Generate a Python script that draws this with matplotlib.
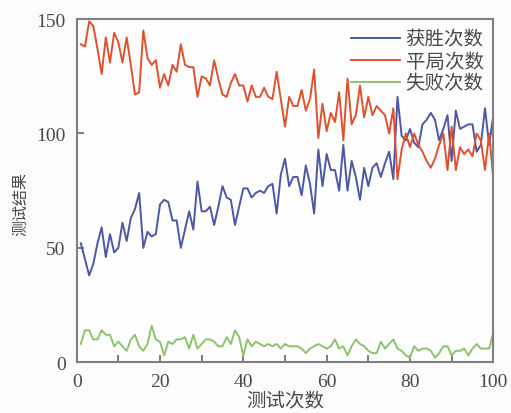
import matplotlib
matplotlib.use("Agg")
import matplotlib.pyplot as plt
import numpy as np

# test index 1..100
trials = list(range(1, 101))

wins = [52, 45, 38, 43, 52, 59, 46, 56, 48, 50,
        61, 53, 63, 67, 74, 50, 57, 55, 56, 69,
        71, 70, 62, 62, 50, 58, 66, 58, 79, 66,
        66, 68, 60, 68, 77, 72, 71, 60, 68, 76,
        76, 72, 74, 75, 74, 77, 78, 65, 82, 89,
        77, 81, 81, 73, 86, 78, 65, 93, 77, 91,
        84, 84, 75, 95, 75, 88, 81, 71, 85, 77,
        85, 87, 81, 87, 92, 80, 116, 99, 97, 102,
        96, 94, 104, 106, 109, 106, 97, 102, 108, 88,
        110, 102, 103, 104, 104, 92, 95, 111, 95, 108]

draws = [139, 138, 149, 147, 137, 126, 142, 131, 144, 140,
         131, 142, 130, 117, 118, 145, 133, 130, 132, 120,
         126, 121, 130, 127, 139, 130, 129, 129, 116, 125,
         124, 121, 132, 124, 117, 116, 122, 126, 121, 121,
         114, 121, 116, 116, 120, 116, 115, 127, 115, 103,
         116, 112, 112, 119, 110, 115, 128, 98, 113, 101,
         109, 105, 118, 97, 124, 104, 108, 121, 107, 116,
         108, 112, 110, 108, 100, 111, 80, 93, 100, 94,
         100, 95, 92, 88, 85, 89, 95, 100, 84, 103,
         84, 94, 91, 93, 90, 100, 97, 84, 100, 80]

losses = [8, 14, 14, 10, 10, 14, 12, 12, 7, 9,
          7, 5, 10, 12, 7, 5, 8, 16, 10, 9,
          3, 9, 8, 10, 10, 11, 6, 12, 6, 8,
          10, 10, 9, 7, 7, 11, 8, 14, 11, 3,
          10, 7, 9, 8, 7, 8, 7, 8, 6, 8,
          7, 7, 7, 6, 4, 6, 7, 8, 7, 6,
          7, 10, 6, 7, 3, 7, 10, 8, 7, 5,
          4, 4, 9, 6, 8, 10, 6, 5, 3, 2,
          7, 5, 6, 6, 5, 2, 4, 7, 7, 3,
          5, 5, 6, 3, 6, 8, 6, 6, 6, 13]

series_names = ["获胜次数", "平局次数", "失败次数"]
series_colors = ["#4a58a6", "#e2502c", "#8cc46a"]

xticks = [0, 20, 40, 60, 80, 100]
yticks = [0, 50, 100, 150]

cjk = ["Noto Sans CJK SC", "DejaVu Sans"]
serif = ["Liberation Serif", "DejaVu Serif"]

fig = plt.figure(figsize=(5.11, 4.14), dpi=100, facecolor="#fbfbfb")
ax = fig.add_axes([0.150, 0.1225, 0.8154, 0.829])
ax.set_facecolor("#fdfdfd")

for vals, name, col in zip([wins, draws, losses], series_names, series_colors):
    ax.plot(trials, vals, color=col, lw=1.4, label=name)

ax.set_xlim(0, 100)
ax.set_ylim(0, 150)
ax.set_xticks(xticks)
ax.set_xticks(list(range(10, 100, 20)), minor=True)
ax.set_yticks(yticks)
ax.tick_params(axis="both", which="both", direction="in", colors="#666666",
               labelcolor="#4a4a4a", width=1.2)
ax.tick_params(axis="both", which="major", length=5, labelsize=14, pad=8)
ax.tick_params(axis="x", which="minor", length=5)
for lab in ax.get_xticklabels() + ax.get_yticklabels():
    lab.set_family(serif)

for sp in ax.spines.values():
    sp.set_color("#808080")
    sp.set_linewidth(1.5)

ax.set_xlabel("测试次数", family=cjk, fontsize=14, color="#4a4a4a", labelpad=0)
ax.set_ylabel("测试结果", family=cjk, fontsize=11.5, color="#4a4a4a")
ax.yaxis.set_label_coords(-0.113, 0.465)

leg = ax.legend(loc="upper right", frameon=False, prop={"family": cjk, "size": 14},
                handlelength=2.5, handletextpad=0.3, labelspacing=0.05,
                borderaxespad=0.1)
for t in leg.get_texts():
    t.set_color("#4a4a4a")

fig.savefig("out.png", dpi=100, facecolor=fig.get_facecolor())
